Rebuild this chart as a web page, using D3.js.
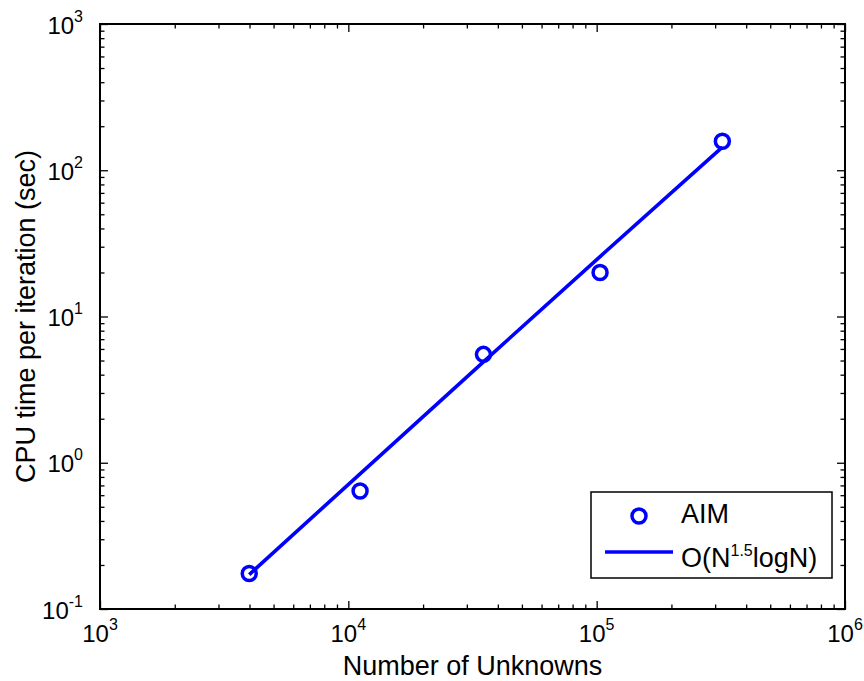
<!DOCTYPE html>
<html>
<head>
<meta charset="utf-8">
<script src="https://cdn.jsdelivr.net/npm/d3@7"></script>
<style>
  html, body { margin: 0; padding: 0; background: #fff; }
  svg { display: block; font-family: "Liberation Sans", Arial, Helvetica, sans-serif; }
</style>
</head>
<body>
<svg id="chart" width="864" height="681"></svg>
<script>
// Problem sizes and measured CPU time per iteration (AIM solver)
const unknowns = [3990, 11150, 35000, 103200, 320700];
const cpuTime = [0.175, 0.641, 5.51, 20.0, 158];
// O(N^1.5 log N) reference curve evaluated at the same sizes
const fitTime = [0.172, 0.84, 4.9, 25.7, 144];

const xTickExponents = [3, 4, 5, 6];
const yTickExponents = [-1, 0, 1, 2, 3];
const seriesNames = ["AIM", "O(N", "1.5", "logN)"];

(function () {
const svg = d3.select("#chart");
const mLeft = 100, mRight = 845, mTop = 24, mBottom = 609;
const blue = "#0000ff";

const x = d3.scaleLog().domain([1e3, 1e6]).range([mLeft, mRight]);
const y = d3.scaleLog().domain([1e-1, 1e3]).range([mBottom, mTop]);

// minor/major tick values
const xAll = x.ticks();
const yAll = y.ticks();
const isMajor = v => Math.abs(Math.log10(v) - Math.round(Math.log10(v))) < 1e-9;
const xMajor = xAll.filter(isMajor), xMinor = xAll.filter(v => !isMajor(v));
const yMajor = yAll.filter(isMajor), yMinor = yAll.filter(v => !isMajor(v));

function drawAxis(gen, tx, ty, values, size) {
  const g = svg.append("g").attr("transform", `translate(${tx},${ty})`)
    .call(gen.tickValues(values).tickSizeInner(size).tickSizeOuter(0).tickFormat(""));
  g.selectAll(".domain").remove();
  g.selectAll(".tick line").attr("stroke", "#000").attr("stroke-width", 1.3);
  return g;
}

// ticks point inward on all four sides
drawAxis(d3.axisBottom(x), 0, mBottom, xMajor, -8);
drawAxis(d3.axisBottom(x), 0, mBottom, xMinor, -4.5);
drawAxis(d3.axisTop(x), 0, mTop, xMajor, -8);
drawAxis(d3.axisTop(x), 0, mTop, xMinor, -4.5);
drawAxis(d3.axisLeft(y), mLeft, 0, yMajor, -8);
drawAxis(d3.axisLeft(y), mLeft, 0, yMinor, -4.5);
drawAxis(d3.axisRight(y), mRight, 0, yMajor, -8);
drawAxis(d3.axisRight(y), mRight, 0, yMinor, -4.5);

// frame
svg.append("rect")
  .attr("x", mLeft).attr("y", mTop)
  .attr("width", mRight - mLeft).attr("height", mBottom - mTop)
  .attr("fill", "none").attr("stroke", "#000").attr("stroke-width", 2);

// tick labels as 10^k
const tickSize = 24, supSize = 16, labelSize = 27;
function powerLabel(sel) {
  sel.append("tspan").text("10");
  sel.append("tspan").attr("dy", -12).attr("font-size", supSize).text(d => d);
}
svg.append("g").selectAll("text").data(xTickExponents).join("text")
  .attr("x", d => x(Math.pow(10, d)))
  .attr("y", 642)
  .attr("text-anchor", "middle")
  .attr("font-size", tickSize)
  .attr("fill", "#000")
  .call(powerLabel);
svg.append("g").selectAll("text").data(yTickExponents).join("text")
  .attr("x", 83)
  .attr("y", d => y(Math.pow(10, d)) + 9.5)
  .attr("text-anchor", "end")
  .attr("font-size", tickSize)
  .attr("fill", "#000")
  .call(powerLabel);

// axis titles
svg.append("text")
  .attr("x", (mLeft + mRight) / 2).attr("y", 675)
  .attr("text-anchor", "middle").attr("font-size", labelSize)
  .text("Number of Unknowns");
svg.append("text")
  .attr("transform", `translate(35,${(mTop + mBottom) / 2}) rotate(-90)`)
  .attr("text-anchor", "middle").attr("font-size", labelSize)
  .text("CPU time per iteration (sec)");

// fitted curve
const line = d3.line().x((d, i) => x(unknowns[i])).y(d => y(d));
svg.append("path").datum(fitTime)
  .attr("d", line)
  .attr("fill", "none").attr("stroke", blue).attr("stroke-width", 3.6);

// measured points
svg.append("g").selectAll("circle").data(cpuTime).join("circle")
  .attr("cx", (d, i) => x(unknowns[i]))
  .attr("cy", d => y(d))
  .attr("r", 7)
  .attr("fill", "none").attr("stroke", blue).attr("stroke-width", 3.5);

// legend
const lg = svg.append("g");
lg.append("rect").attr("x", 591).attr("y", 492).attr("width", 241).attr("height", 86)
  .attr("fill", "#fff").attr("stroke", "#000").attr("stroke-width", 1.5);
lg.append("circle").attr("cx", 639).attr("cy", 516).attr("r", 7)
  .attr("fill", "none").attr("stroke", blue).attr("stroke-width", 3.5);
lg.append("line").attr("x1", 605).attr("x2", 673).attr("y1", 552).attr("y2", 552)
  .attr("stroke", blue).attr("stroke-width", 3.6);
lg.append("text").attr("x", 681).attr("y", 523).attr("font-size", labelSize).text(seriesNames[0]);
const t2 = lg.append("text").attr("x", 681).attr("y", 567).attr("font-size", labelSize);
t2.append("tspan").text(seriesNames[1]);
t2.append("tspan").attr("dy", -11).attr("font-size", supSize).text(seriesNames[2]);
t2.append("tspan").attr("dy", 11).text(seriesNames[3]);
})();
</script>
</body>
</html>
